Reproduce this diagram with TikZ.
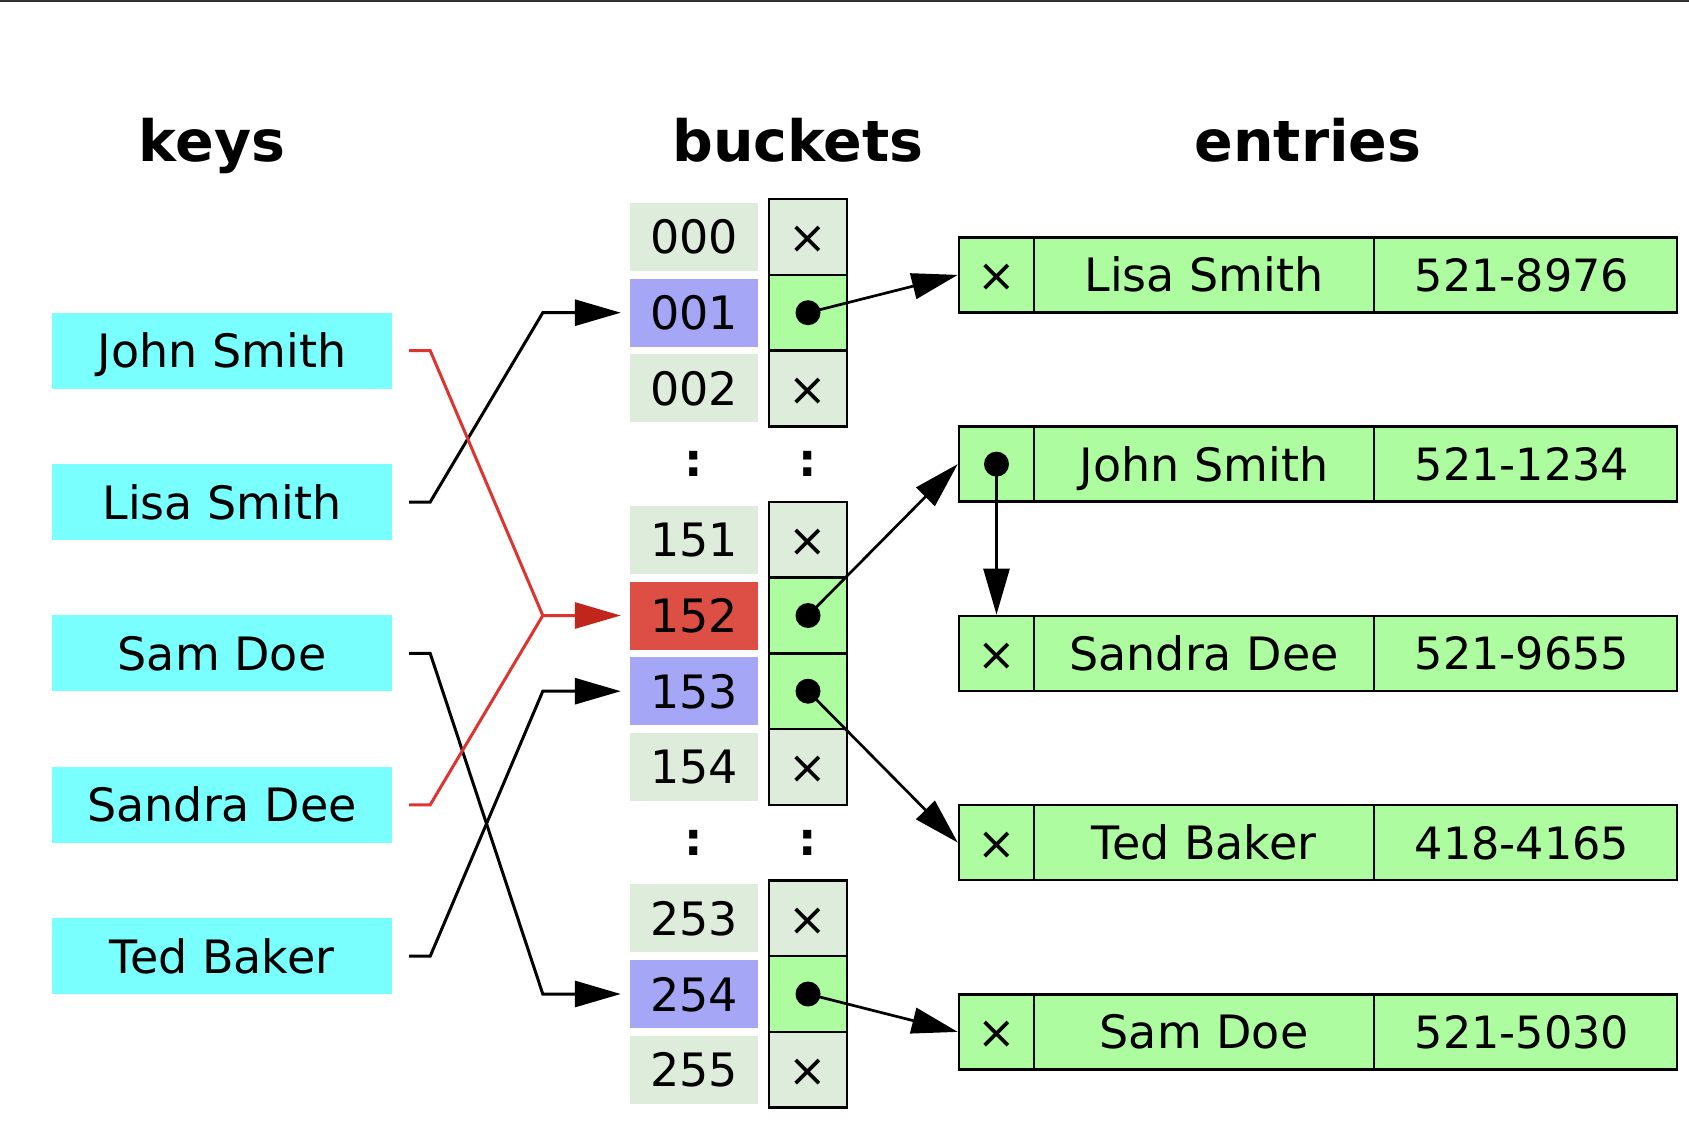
\documentclass[tikz,border=0pt]{standalone}
\usepackage{fontspec}
\setmainfont{DejaVu Sans}
\usetikzlibrary{arrows.meta}
\definecolor{keycyan}{RGB}{122,255,255}
\definecolor{lgray}{RGB}{221,236,219}
\definecolor{lblue}{RGB}{166,166,246}
\definecolor{lred}{RGB}{221,79,69}
\definecolor{cgreen}{RGB}{174,252,160}
\definecolor{redline}{RGB}{222,52,48}
\definecolor{redtip}{RGB}{192,38,28}
\definecolor{topbar}{RGB}{51,51,51}
\begin{document}
\begin{tikzpicture}[x=1pt,y=-1pt,
  txt/.style={font=\fontsize{46}{50}\selectfont, text height=34pt, text depth=0pt, inner sep=0pt},
  head/.style={font=\bfseries\fontsize{57}{60}\selectfont, inner sep=0pt, anchor=base},
  keybox/.style={txt, fill=keycyan, minimum width=340pt, minimum height=76pt},
  lab/.style={txt, minimum width=128pt, minimum height=68pt},
  cellbox/.style={txt, draw=black, line width=2.5pt, minimum width=78pt, minimum height=75.7pt},
  entcell/.style={txt, draw=black, fill=cgreen, line width=2.5pt, minimum height=75pt},
  numtxt/.style={font=\fontsize{44.5}{50}\selectfont, text height=33pt},
  colon/.style={font=\bfseries\fontsize{46}{50}\selectfont, inner sep=0pt, text height=34pt, text depth=0pt},
  dot/.style={circle, fill=black, inner sep=0pt, minimum size=25pt},
  arr/.style={-{Triangle[length=46pt,width=26pt]}},
  kline/.style={line width=3pt, black},
  rline/.style={line width=3pt, redline},
  ptr/.style={line width=2.7pt, black, arr}
]
\useasboundingbox (0,0) rectangle (1689,1123);
\fill[white] (0,0) rectangle (1689,1123);
\fill[topbar] (0,0) rectangle (1689,2.5);

% headers
\node[head] (hkeys) at (212,162) {keys};
\node[head] (hbuckets) at (798,162) {buckets};
\node[head] (hentries) at (1308,162) {entries};

% keys
\node[keybox] (kJohn)   at (222,350.6) {John Smith};
\node[keybox] (kLisa)   at (222,502.0) {Lisa Smith};
\node[keybox] (kSam)    at (222,653.4) {Sam Doe};
\node[keybox] (kSandra) at (222,804.8) {Sandra Dee};
\node[keybox] (kTed)    at (222,956.2) {Ted Baker};

% bucket labels
\node[lab, fill=lgray] (b000) at (694,237.0) {000};
\node[lab, fill=lblue] (b001) at (694,312.7) {001};
\node[lab, fill=lgray] (b002) at (694,388.4) {002};
\node[colon] (colA) at (694,459) {:};
\node[lab, fill=lgray] (b151) at (694,539.8) {151};
\node[lab, fill=lred]  (b152) at (694,615.5) {152};
\node[lab, fill=lblue] (b153) at (694,691.2) {153};
\node[lab, fill=lgray] (b154) at (694,766.9) {154};
\node[colon] (colB) at (694,838) {:};
\node[lab, fill=lgray] (b253) at (694,918.3) {253};
\node[lab, fill=lblue] (b254) at (694,994.0) {254};
\node[lab, fill=lgray] (b255) at (694,1069.7) {255};

% bucket cells
\node[cellbox, fill=lgray]  (c000) at (808,237.0) {×};
\node[cellbox, fill=cgreen] (c001) at (808,312.7) {};
\node[cellbox, fill=lgray]  (c002) at (808,388.4) {×};
\node[colon] (colC) at (808,459) {:};
\node[cellbox, fill=lgray]  (c151) at (808,539.8) {×};
\node[cellbox, fill=cgreen] (c152) at (808,615.5) {};
\node[cellbox, fill=cgreen] (c153) at (808,691.2) {};
\node[cellbox, fill=lgray]  (c154) at (808,766.9) {×};
\node[colon] (colD) at (808,838) {:};
\node[cellbox, fill=lgray]  (c253) at (808,918.3) {×};
\node[cellbox, fill=cgreen] (c254) at (808,994.0) {};
\node[cellbox, fill=lgray]  (c255) at (808,1069.7) {×};

% entries
\node[entcell, minimum width=75pt]  (pLisa) at (996.5,274.9) {×};
\node[entcell, minimum width=340pt] (nLisa) at (1204,274.9) {Lisa Smith};
\node[entcell, minimum width=303pt, numtxt] (tLisa) at (1525.5,274.9) {\hspace*{-7pt}521-8976};

\node[entcell, minimum width=75pt]  (pJohn) at (996.5,464.1) {};
\node[entcell, minimum width=340pt] (nJohn) at (1204,464.1) {John Smith};
\node[entcell, minimum width=303pt, numtxt] (tJohn) at (1525.5,464.1) {\hspace*{-7pt}521-1234};

\node[entcell, minimum width=75pt]  (pSandra) at (996.5,653.4) {×};
\node[entcell, minimum width=340pt] (nSandra) at (1204,653.4) {Sandra Dee};
\node[entcell, minimum width=303pt, numtxt] (tSandra) at (1525.5,653.4) {\hspace*{-7pt}521-9655};

\node[entcell, minimum width=75pt]  (pTed) at (996.5,842.6) {×};
\node[entcell, minimum width=340pt] (nTed) at (1204,842.6) {Ted Baker};
\node[entcell, minimum width=303pt, numtxt] (tTed) at (1525.5,842.6) {\hspace*{-7pt}418-4165};

\node[entcell, minimum width=75pt]  (pSam) at (996.5,1031.9) {×};
\node[entcell, minimum width=340pt] (nSam) at (1204,1031.9) {Sam Doe};
\node[entcell, minimum width=303pt, numtxt] (tSam) at (1525.5,1031.9) {\hspace*{-7pt}521-5030};

% key -> bucket connectors
\draw[kline, arr] ([xshift=17pt]kLisa.east) -- ++(21,0) -- ([xshift=-87pt]b001.west) -- ([xshift=-9pt]b001.west);
\draw[kline, arr] ([xshift=17pt]kSam.east) -- ++(21,0) -- ([xshift=-87pt]b254.west) -- ([xshift=-9pt]b254.west);
\draw[kline, arr] ([xshift=17pt]kTed.east) -- ++(21,0) -- ([xshift=-87pt]b153.west) -- ([xshift=-9pt]b153.west);
\draw[rline] ([xshift=17pt]kSandra.east) -- ++(21,0) -- ([xshift=-87pt]b152.west);
\draw[rline, -{Triangle[length=46pt,width=26pt,color=redtip]}] ([xshift=17pt]kJohn.east) -- ++(21,0) -- ([xshift=-87pt]b152.west) -- ([xshift=-9pt]b152.west);

% bucket -> entry pointers
\draw[ptr] (c001.center) -- (pLisa.west);
\draw[ptr] (c152.center) -- (pJohn.west);
\draw[ptr] (c153.center) -- (pTed.west);
\draw[ptr] (c254.center) -- (pSam.west);
\draw[ptr] (pJohn.center) -- (pSandra.north);

% dots
\node[dot] (d001) at (c001.center) {};
\node[dot] (d152) at (c152.center) {};
\node[dot] (d153) at (c153.center) {};
\node[dot] (d254) at (c254.center) {};
\node[dot] (dJohn) at (pJohn.center) {};
\end{tikzpicture}
\end{document}
